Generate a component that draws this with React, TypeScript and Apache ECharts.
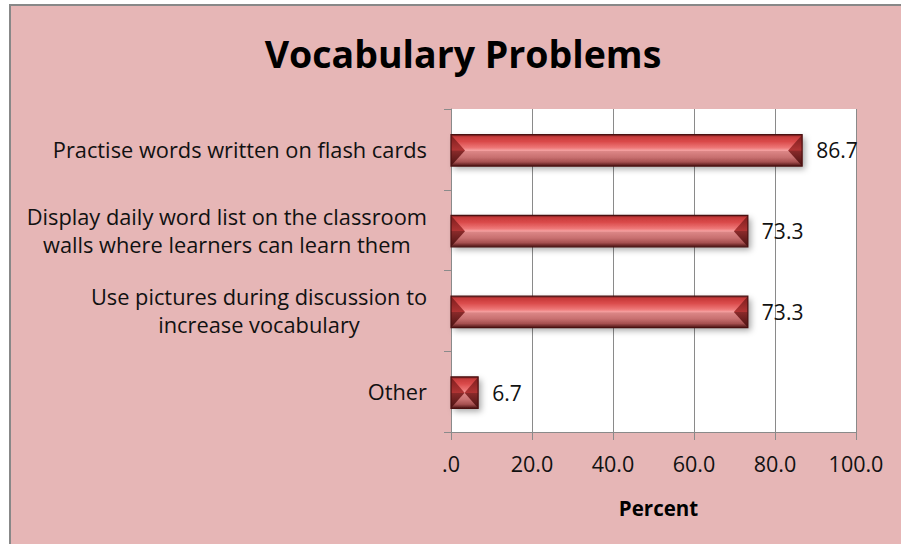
import React, { useEffect, useRef } from "react";
import * as echarts from "echarts";

const categories = [
  "Practise words written on flash cards",
  "Display daily word list on the classroom\nwalls where learners can learn them",
  "Use pictures during discussion to\nincrease vocabulary",
  "Other",
];
const values = [86.7, 73.3, 73.3, 6.7];
const xTicks = [0, 20, 40, 60, 80, 100];
const titleText = "Vocabulary Problems";
const axisName = "Percent";

const FONT = "'Open Sans', Lato, sans-serif";

export default function App() {
  const ref = useRef<HTMLDivElement>(null);
  useEffect(() => {
    if (!ref.current) return;
    const chart = echarts.init(ref.current, null, { renderer: "svg" });
    const bodyGrad = new echarts.graphic.LinearGradient(0, 0, 0, 1, [
      { offset: 0, color: "#6e1818" },
      { offset: 0.07, color: "#c63a3a" },
      { offset: 0.22, color: "#da4a4a" },
      { offset: 0.42, color: "#ee7878" },
      { offset: 0.5, color: "#f6a2a2" },
      { offset: 0.53, color: "#dc8686" },
      { offset: 0.72, color: "#c87070" },
      { offset: 0.87, color: "#a65050" },
      { offset: 1, color: "#4a1212" },
    ]);
    const sideGrad = new echarts.graphic.LinearGradient(0, 0, 0, 1, [
      { offset: 0, color: "#7a1c1c" },
      { offset: 0.5, color: "#b03434" },
      { offset: 0.51, color: "#8a2a2a" },
      { offset: 1, color: "#4a1212" },
    ]);
    const data = values.map((v, i) => [v, i]);
    chart.setOption({
      animation: false,
      backgroundColor: "transparent",
      title: {
        text: titleText,
        left: 458,
        top: 29,
        textAlign: "center",
        textStyle: { fontFamily: FONT, fontSize: 37.5, fontWeight: "bold", color: "#000" },
      },
      grid: {
        left: 451,
        right: 45,
        top: 109,
        bottom: 112,
        show: true,
        backgroundColor: "#ffffff",
        borderWidth: 0,
      },
      xAxis: {
        type: "value",
        min: 0,
        max: 100,
        interval: 20,
        name: axisName,
        nameLocation: "middle",
        nameGap: 65,
        nameTextStyle: {
          fontFamily: FONT,
          fontSize: 20.5,
          fontWeight: "bold",
          color: "#000",
          padding: [0, 0, 0, 10],
        },
        axisLine: { show: true, lineStyle: { color: "#8a8a8a", width: 1 } },
        axisTick: { show: true, length: 8, lineStyle: { color: "#8a8a8a" } },
        splitLine: { show: true, lineStyle: { color: "#8a8a8a", width: 1 } },
        axisLabel: {
          margin: 20,
          fontFamily: FONT,
          fontSize: 21.5,
          color: "#111",
          formatter: (v: number) => (v === xTicks[0] ? ".0" : v.toFixed(1)),
        },
      },
      yAxis: {
        type: "category",
        inverse: true,
        data: categories,
        axisLine: { show: true, lineStyle: { color: "#8a8a8a", width: 1 } },
        axisTick: { show: true, length: 7, lineStyle: { color: "#8a8a8a" } },
        splitLine: { show: false },
        axisLabel: {
          margin: 24,
          align: "right",
          fontFamily: FONT,
          fontSize: 21.8,
          color: "#111",
          lineHeight: 28,
          formatter: (v: string) =>
            v
              .split("\n")
              .map((l) => `{c|${l}}`)
              .join("\n"),
          rich: {
            c: { align: "center", fontFamily: FONT, fontSize: 21.8, color: "#111", lineHeight: 28 },
          },
        },
      },
      series: [
        {
          type: "custom",
          data,
          encode: { x: 0, y: 1 },
          renderItem: (params: any, api: any) => {
            const v = api.value(0);
            const c = api.value(1);
            const p0 = api.coord([0, c]);
            const p1 = api.coord([v, c]);
            const band = api.size([0, 1])[1];
            const h = band * 0.39;
            const x0 = p0[0];
            const x1 = p1[0];
            const y0 = p0[1] - h / 2 + 1;
            const y1 = y0 + h;
            const ym = y0 + h / 2;
            const b = Math.min(14, (x1 - x0) / 2);
            return {
              type: "group",
              children: [
                {
                  type: "rect",
                  shape: { x: x0, y: y0, width: x1 - x0, height: h },
                  style: {
                    fill: bodyGrad,
                    shadowBlur: 6,
                    shadowOffsetX: 3,
                    shadowOffsetY: 3,
                    shadowColor: "rgba(0,0,0,0.35)",
                  },
                },
                {
                  type: "polygon",
                  shape: { points: [[x0, y0], [x0 + b, ym], [x0, y1]] },
                  style: { fill: sideGrad },
                },
                {
                  type: "polygon",
                  shape: { points: [[x1, y0], [x1 - b, ym], [x1, y1]] },
                  style: { fill: sideGrad },
                },
                {
                  type: "rect",
                  shape: { x: x0, y: y0, width: x1 - x0, height: h },
                  style: { fill: "none", stroke: "#4a1010", lineWidth: 1.2 },
                },
                {
                  type: "text",
                  x: x1 + 14,
                  y: ym,
                  style: {
                    text: String(v),
                    fontFamily: FONT,
                    fontSize: 21,
                    fill: "#111",
                    verticalAlign: "middle",
                    align: "left",
                  },
                },
              ],
            };
          },
        },
      ],
    });
    return () => chart.dispose();
  }, []);
  return (
    <div style={{ position: "absolute", left: 0, top: 0, width: 901, height: 544, background: "#fff", overflow: "hidden" }}>
      <div
        style={{
          position: "absolute",
          left: 9,
          top: 4,
          width: 900,
          height: 560,
          background: "#e6b6b6",
          borderLeft: "2px solid #888",
          borderTop: "2px solid #888",
        }}
      />
      <div ref={ref} style={{ position: "absolute", left: 0, top: 0, width: 901, height: 544 }} />
    </div>
  );
}
